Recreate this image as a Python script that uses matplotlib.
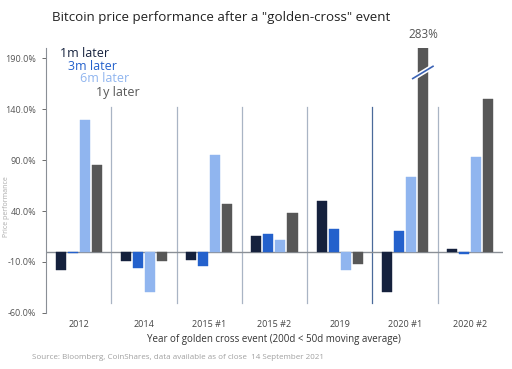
import numpy as np
import matplotlib.pyplot as plt

events = ["2012", "2014", "2015 #1", "2015 #2", "2019", "2020 #1", "2020 #2"]
series = ["1m later", "3m later", "6m later", "1y later"]
m1 = [-18, -9, -8.5, 15, 49.5, -39, 3]
m3 = [-1, -16, -14, 17, 22.5, 20, -2]
m6 = [129, -39, 95, 12, -18, 73, 93]
y1 = [85, -9, 47, 38.5, -12, 283, 150]
colors = ["#15213d", "#2461cc", "#90b5ef", "#575757"]

cap = 200  # 283% bar is cut at the top of the axis

plt.rcParams['font.family'] = ['Open Sans', 'DejaVu Sans']
fig = plt.figure(figsize=(5.12, 3.69), dpi=100)
ax = fig.add_axes([0.09, 0.152, 0.892, 0.718])

x = np.arange(len(events))
offs = [-0.277, -0.092, 0.092, 0.277]
for vals, off, c in zip([m1, m3, m6, y1], offs, colors):
    v = np.minimum(vals, cap)
    ax.bar(x + off, v, width=0.155, color=c, edgecolor=c, lw=0.3, zorder=3)

# break mark on the 2020 #1 1y bar
ax.plot([5.12, 5.43], [170, 182], color="white", lw=3.5, zorder=4, solid_capstyle="butt")
ax.plot([5.12, 5.43], [170, 182], color="#3b63b5", lw=1.2, zorder=5)
ax.text(5.277, 207, "283%", ha="center", va="bottom", fontsize=8.5, color="#555555",
        clip_on=False)

# group separators
for i in range(1, len(events)):
    c = "#4a6a9a" if i == 5 else "#a9b4c4"
    ax.plot([i - 0.5, i - 0.5], [-50, 142], color=c, lw=0.9, zorder=1)

ax.axhline(0, color="#8a8f96", lw=1.0, zorder=2)

ax.set_xlim(-0.5, 6.5)
ax.set_ylim(-60, 200)
ax.set_yticks(np.arange(-60, 191, 50))
ax.set_yticklabels([f"{t:.1f}%" for t in np.arange(-60, 191, 50)])
ax.set_xticks(x)
ax.set_xticklabels(events)
ax.tick_params(axis="y", labelsize=6.5, colors="#555555", length=3, width=0.6, pad=4)
ax.tick_params(axis="x", labelsize=6.5, colors="#444444", length=0, pad=5)
for s in ["top", "right", "bottom"]:
    ax.spines[s].set_visible(False)
ax.spines["left"].set_color("#8a8f96")
ax.spines["left"].set_linewidth(0.8)
ax.set_xlabel("Year of golden cross event (200d < 50d moving average)",
              fontsize=7.0, color="#333333", labelpad=4)

# staggered legend text
leg_pos = [(0.117, 0.855), (0.133, 0.82), (0.156, 0.787), (0.188, 0.75)]
for (lx, ly), name, c in zip(leg_pos, series, colors):
    fig.text(lx, ly, name, fontsize=9, color=c, ha="left", va="center")

fig.text(0.012, 0.44, "Price performance", rotation=90, fontsize=5, color="#aaaaaa",
         ha="center", va="center")

fig.text(0.102, 0.953, 'Bitcoin price performance after a "golden-cross" event',
         fontsize=9.6, color="#222222", ha="left", va="center")
fig.text(0.063, 0.03, "Source: Bloomberg, CoinShares, data available as of close  14 September 2021",
         fontsize=5.8, color="#a0a0a0", ha="left", va="center")

fig.savefig("out.png", dpi=100)
